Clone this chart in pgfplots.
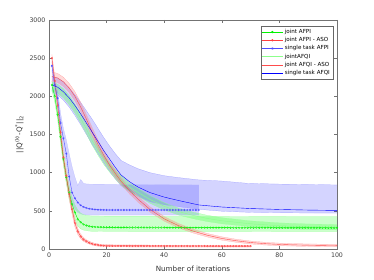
\documentclass[border=0pt]{standalone}
\usepackage{fontspec}
\setmainfont{DejaVu Sans}
\usepackage{pgfplots}
\pgfplotsset{compat=1.18}
\usepgfplotslibrary{fillbetween}
\definecolor{gfast}{rgb}{0.0,0.95,0.0}
\definecolor{rfast}{rgb}{1.0,0.25,0.25}
\definecolor{bfast}{rgb}{0.3,0.3,1.0}
\definecolor{gslow}{rgb}{0.55,1.0,0.55}
\definecolor{rslow}{rgb}{1.0,0.3,0.3}
\definecolor{bslow}{rgb}{0.0,0.0,1.0}
\begin{document}
\begin{tikzpicture}
\begin{axis}[name=ax, scale only axis, width=288bp, height=229bp,
  xmin=0, xmax=100, ymin=0, ymax=3000,
  xtick={0,20,...,100}, ytick={0,500,...,3000},
  scaled ticks=false,
  /pgf/number format/1000 sep={},
  /pgf/number format/assume math mode=true,
  tick align=inside, major tick length=3bp,
  axis line style={black!55}, tick style={black!55, thin},
  tick label style={font=\fontsize{6.3}{7}\selectfont, text=black!75},
  label style={font=\fontsize{7.2}{8}\selectfont, text=black!80},
  xlabel={Number of iterations},
  xlabel style={yshift=-1.5bp},
  ylabel={||Q\textsuperscript{(k)}-Q\textsuperscript{*}||\textsubscript{2}},
  ylabel style={yshift=-1bp},
  legend image code/.code={\draw[mark repeat=2,mark phase=2,#1] plot coordinates {(0cm,0cm) (0.36cm,0cm) (0.72cm,0cm)};},
  legend style={at={(1,1)}, anchor=north east, xshift=-4bp, yshift=-6bp,
    font=\fontsize{5.6}{6}\selectfont, draw=black!60, row sep=-1.5pt, inner sep=1pt},
  legend cell align=left,
]
% ---------- legend images ----------
\addlegendimage{color=gfast, line width=0.8pt, mark=*, mark size=0.7pt, mark options={fill=gfast}}
\addlegendentry{joint AFPI}
\addlegendimage{color=rfast, line width=0.8pt, mark=*, mark size=0.7pt, mark options={fill=rfast}}
\addlegendentry{joint AFPI - ASO}
\addlegendimage{color=bfast, line width=0.8pt, mark=asterisk, mark size=1.2pt, mark options={line width=0.4pt}}
\addlegendentry{single task AFPI}
\addlegendimage{color=gslow, line width=0.8pt}
\addlegendentry{jointAFQI}
\addlegendimage{color=rslow, line width=0.8pt}
\addlegendentry{joint AFQI - ASO}
\addlegendimage{color=bslow, line width=0.8pt}
\addlegendentry{single task AFQI}
% ---------- bands ----------
% single task AFQI (slow blue)
\addplot[name path=bsu, draw=bslow!40, very thin, forget plot] coordinates {(1,2260)(3,2240)(5,2190)(7,2110)(9,2020)(11,1920)(13,1810)(15,1700)(17,1580)(19,1460)(21,1350)(23,1250)(25,1160)(28,1100)(31,1050)(35,1000)(40,960)(45,935)(52,905)(60,890)(69,860)(80,850)(90,845)(100,839)};
\addplot[name path=bsl, draw=bslow!40, very thin, forget plot] coordinates {(1,2060)(3,2020)(5,1950)(7,1860)(9,1750)(11,1630)(13,1500)(15,1370)(17,1250)(19,1130)(21,1020)(23,920)(25,830)(28,750)(31,690)(35,620)(40,580)(45,555)(52,520)(60,495)(70,480)(80,475)(90,472)(100,470)};
\addplot[blue, fill opacity=0.17, draw=none, forget plot] fill between[of=bsu and bsl];
% single task AFPI (fast blue)
\addplot[name path=bfu, draw=bfast!40, very thin, forget plot] coordinates {(1,2460)(2,2230)(3,2080)(4,1780)(5,1580)(6,1430)(7,1250)(8,1080)(9,940)(10,830)(11,910)(12,860)(13,852)(14,850)(20,848)(30,845)(40,842)(52,840)};
\addplot[name path=bfl, draw=bfast!40, very thin, forget plot] coordinates {(1,2340)(2,2070)(3,1870)(4,1520)(5,1320)(6,1100)(7,780)(8,600)(9,520)(10,480)(11,460)(12,450)(13,447)(14,445)(20,445)(30,445)(40,445)(52,445)};
\addplot[blue, fill opacity=0.17, draw=none, forget plot] fill between[of=bfu and bfl];
% jointAFQI (slow green)
\addplot[name path=gsu, draw=green!40, very thin, forget plot] coordinates {(1,2190)(3,2160)(5,2100)(7,2010)(9,1900)(11,1770)(13,1630)(15,1480)(17,1350)(19,1230)(21,1130)(23,1040)(25,960)(28,865)(31,792)(35,700)(40,608)(45,535)(50,483)(55,441)(60,410)(70,368)(80,342)(90,328)(100,320)};
\addplot[name path=gsl, draw=green!40, very thin, forget plot] coordinates {(1,2070)(3,2040)(5,1980)(7,1890)(9,1780)(11,1650)(13,1510)(15,1360)(17,1230)(19,1110)(21,1010)(23,920)(25,840)(28,755)(31,688)(35,600)(40,512)(45,445)(50,397)(55,359)(60,330)(70,292)(80,268)(90,256)(100,250)};
\addplot[green, fill opacity=0.2, draw=none, forget plot] fill between[of=gsu and gsl];
% joint AFPI (fast green)
\addplot[name path=gfu, draw=green!40, very thin, forget plot] coordinates {(1,2200)(2,2060)(3,1830)(4,1550)(5,1260)(6,1020)(7,830)(8,680)(9,580)(10,510)(11,470)(12,450)(13,440)(14,435)(15,432)(20,430)(30,430)(40,429)(50,428)(60,428)(70,427)(80,426)(90,425)(100,425)};
\addplot[name path=gfl, draw=green!40, very thin, forget plot] coordinates {(1,2080)(2,1930)(3,1690)(4,1390)(5,1100)(6,860)(7,660)(8,500)(9,390)(10,300)(11,265)(12,248)(13,240)(14,235)(15,232)(20,230)(30,229)(40,229)(50,228)(60,228)(70,228)(80,227)(90,227)(100,227)};
\addplot[green, fill opacity=0.2, draw=none, forget plot] fill between[of=gfu and gfl];
% joint AFQI - ASO (slow red)
\addplot[name path=rsu, draw=red!35, very thin, forget plot] coordinates {(1,2320)(3,2300)(5,2250)(7,2170)(9,2060)(11,1920)(13,1760)(15,1590)(17,1430)(19,1285)(21,1150)(23,1040)(25,935)(28,800)(31,690)(35,555)(40,425)(45,333)(50,260)(55,203)(60,160)(65,128)(70,104)(75,88)(80,77)(85,70)(90,66)(95,63)(100,61)};
\addplot[name path=rsl, draw=red!35, very thin, forget plot] coordinates {(1,2200)(3,2180)(5,2130)(7,2050)(9,1940)(11,1800)(13,1640)(15,1470)(17,1310)(19,1175)(21,1050)(23,940)(25,845)(28,720)(31,610)(35,485)(40,365)(45,277)(50,210)(55,157)(60,116)(65,88)(70,66)(75,52)(80,43)(85,38)(90,34)(95,31)(100,29)};
\addplot[red, fill opacity=0.15, draw=none, forget plot] fill between[of=rsu and rsl];
% joint AFPI - ASO (fast red)
\addplot[name path=rfu, draw=red!35, very thin, forget plot] coordinates {(1,2550)(2,2260)(3,1950)(4,1600)(5,1270)(6,1030)(7,790)(8,580)(9,390)(10,270)(11,195)(12,150)(13,120)(14,100)(15,85)(16,74)(17,67)(18,61)(19,58)(20,55)(30,52)(40,50)(50,49)(60,48)(70,48)};
\addplot[name path=rfl, draw=red!35, very thin, forget plot] coordinates {(1,2450)(2,2140)(3,1810)(4,1460)(5,1130)(6,890)(7,650)(8,460)(9,290)(10,190)(11,135)(12,100)(13,80)(14,64)(15,51)(16,42)(17,37)(18,33)(19,30)(20,29)(30,27)(40,26)(50,26)(60,26)(70,26)};
\addplot[red, fill opacity=0.15, draw=none, forget plot] fill between[of=rfu and rfl];
% ---------- lines ----------
\addplot[color=gfast, thin, mark=o, mark size=0.9pt, mark options={line width=0.3pt}, forget plot] coordinates {(1,2150)(2,2000)(3,1760)(4,1470)(5,1180)(6,940)(7,740)(8,590)(9,480)(10,390)(11,350)(12,322)(13,308)(14,298)(15,292)(16,289)(17,287)(18,286)(19,285)(20,284)(21,284)(22,284)(23,283)(24,283)(25,283)(26,283)(27,283)(28,282)(29,282)(30,282)(31,282)(32,282)(33,281)(34,281)(35,281)(36,281)(37,281)(38,281)(39,281)(40,281)(41,280)(42,280)(43,280)(44,280)(45,280)(46,280)(47,280)(48,280)(49,280)(50,280)(51,280)(52,280)(53,280)(54,280)(55,280)(56,280)(57,280)(58,280)(59,280)(60,280)(61,280)(62,280)(63,279)(64,279)(65,279)(66,279)(67,279)(68,279)(69,279)(70,279)(71,279)(72,279)(73,279)(74,279)(75,279)(76,279)(77,279)(78,279)(79,279)(80,279)(81,279)(82,279)(83,279)(84,278)(85,278)(86,278)(87,278)(88,278)(89,278)(90,278)(91,278)(92,278)(93,278)(94,278)(95,278)(96,278)(97,278)(98,278)(99,278)(100,278)};
\addplot[color=rfast, thin, mark=o, mark size=0.9pt, mark options={line width=0.3pt}, forget plot] coordinates {(1,2500)(2,2200)(3,1880)(4,1530)(5,1200)(6,960)(7,720)(8,520)(9,340)(10,230)(11,165)(12,125)(13,100)(14,82)(15,68)(16,58)(17,52)(18,47)(19,44)(20,42)(21,41)(22,41)(23,41)(24,40)(25,40)(26,40)(27,40)(28,40)(29,40)(30,40)(31,40)(32,40)(33,40)(34,40)(35,40)(36,39)(37,39)(38,39)(39,39)(40,39)(41,39)(42,39)(43,39)(44,39)(45,39)(46,39)(47,39)(48,39)(49,39)(50,39)(51,39)(52,39)(53,39)(54,39)(55,38)(56,38)(57,38)(58,38)(59,38)(60,38)(61,38)(62,38)(63,38)(64,38)(65,38)(66,38)(67,38)(68,38)(69,38)(70,38)};
\addplot[color=bfast, thin, mark=asterisk, mark size=1.1pt, mark options={line width=0.3pt}, forget plot] coordinates {(1,2400)(2,2150)(3,1975)(4,1650)(5,1450)(6,1250)(7,950)(8,740)(9,664)(10,610)(11,572)(12,552)(13,538)(14,528)(15,522)(16,518)(17,515)(18,513)(19,512)(20,511)(21,511)(22,511)(23,511)(24,511)(25,511)(26,511)(27,511)(28,511)(29,511)(30,511)(31,511)(32,511)(33,511)(34,511)(35,511)(36,511)(37,511)(38,511)(39,511)(40,511)(41,511)(42,511)(43,511)(44,511)(45,511)(46,511)(47,511)(48,511)(49,511)(50,511)(51,511)(52,511)};
\addplot[color=gslow, thin, forget plot] coordinates {(1,2130)(3,2100)(5,2040)(7,1950)(9,1840)(11,1710)(13,1570)(15,1420)(17,1290)(19,1170)(21,1070)(23,980)(25,900)(28,810)(31,740)(35,650)(40,560)(45,490)(50,440)(55,400)(60,370)(70,330)(80,305)(90,292)(100,285)};
\addplot[color=rslow, thin, forget plot] coordinates {(1,2260)(3,2240)(5,2190)(7,2110)(9,2000)(11,1860)(13,1700)(15,1530)(17,1370)(19,1230)(21,1100)(23,990)(25,890)(28,760)(31,650)(35,520)(40,395)(45,305)(50,235)(55,180)(60,138)(65,108)(70,85)(75,70)(80,60)(85,54)(90,50)(95,47)(100,45)};
\addplot[color=bslow, thin, forget plot] coordinates {(1,2150)(3,2120)(5,2060)(7,1980)(9,1880)(11,1770)(13,1650)(15,1530)(17,1410)(19,1290)(21,1180)(23,1070)(25,970)(28,880)(31,810)(35,740)(40,680)(45,635)(52,577)(60,550)(70,530)(80,518)(90,510)(100,505)};
\end{axis}
\pgfresetboundingbox
\path ([shift={(-49bp,-31bp)}]ax.south west) rectangle ([shift={(37bp,20bp)}]ax.north east);
\end{tikzpicture}
\end{document}
